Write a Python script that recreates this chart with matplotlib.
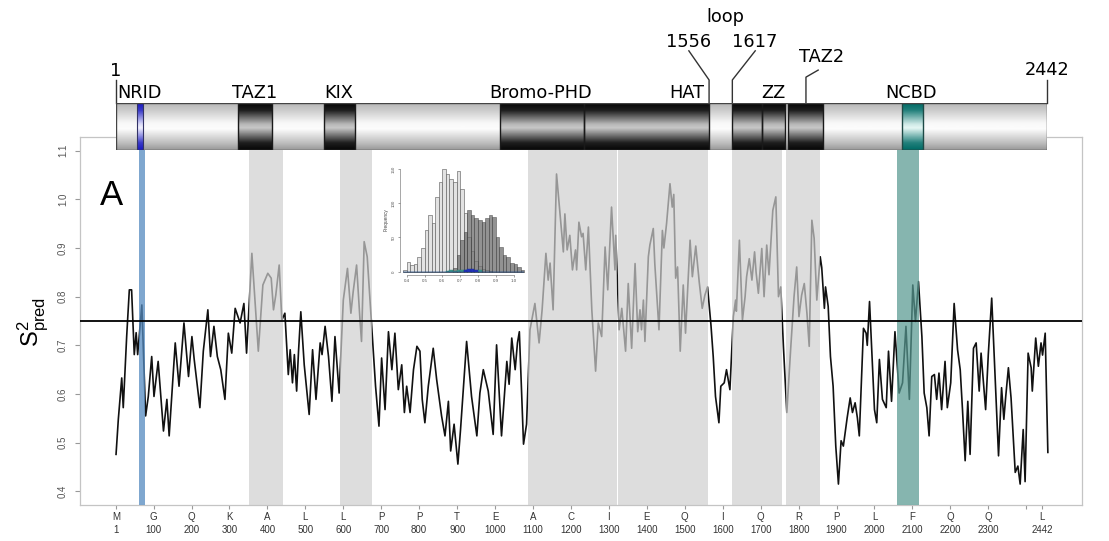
import numpy as np
import matplotlib
matplotlib.use('Agg')
import matplotlib.pyplot as plt
from matplotlib.patches import Rectangle

plt.rcParams['font.family'] = ['Liberation Sans', 'DejaVu Sans']
plt.rcParams['mathtext.fontset'] = 'custom'
plt.rcParams['mathtext.rm'] = 'Liberation Sans'

# predicted order parameter along the sequence
residue = [1, 7, 16, 20, 29, 36, 42, 49, 54, 58, 69, 79, 86, 95, 101, 112, 126, 135, 141, 157,
           167, 180, 192, 201, 207, 222, 231, 243, 250, 259, 268, 277, 288, 297, 306, 315, 328,
           338, 345, 359, 376, 388, 401, 410, 416, 422, 431, 438, 446, 455, 460, 466, 471, 477,
           482, 488, 497, 510, 519, 528, 539, 544, 552, 561, 570, 578, 589, 600, 611, 620, 626,
           635, 644, 648, 655, 663, 675, 685, 694, 701, 710, 719, 728, 736, 745, 754, 761, 767,
           776, 785, 794, 802, 808, 815, 824, 833, 837, 846, 859, 868, 877, 883, 892, 902, 909,
           925, 938, 952, 960, 969, 982, 995, 1004, 1017, 1031, 1037, 1044, 1053, 1059, 1064,
           1075, 1083, 1092, 1105, 1116, 1124, 1134, 1140, 1145, 1153, 1162, 1173, 1180, 1184,
           1190, 1197, 1204, 1212, 1215, 1221, 1228, 1232, 1239, 1246, 1255, 1265, 1272, 1281,
           1290, 1297, 1307, 1316, 1318, 1327, 1334, 1344, 1351, 1360, 1369, 1376, 1382, 1386,
           1391, 1395, 1404, 1408, 1417, 1421, 1432, 1441, 1445, 1452, 1461, 1467, 1471, 1476,
           1481, 1488, 1496, 1502, 1514, 1520, 1529, 1538, 1546, 1553, 1560, 1569, 1575, 1581,
           1590, 1595, 1604, 1610, 1619, 1628, 1634, 1636, 1644, 1652, 1659, 1663, 1670, 1677,
           1684, 1688, 1694, 1703, 1709, 1716, 1722, 1732, 1740, 1747, 1753, 1760, 1769, 1779,
           1788, 1795, 1801, 1808, 1815, 1822, 1828, 1835, 1841, 1848, 1857, 1861, 1868, 1871,
           1878, 1884, 1891, 1898, 1905, 1912, 1918, 1928, 1936, 1942, 1949, 1955, 1960, 1971,
           1978, 1981, 1987, 1993, 2000, 2006, 2013, 2021, 2031, 2037, 2045, 2054, 2065, 2074,
           2083, 2092, 2101, 2108, 2116, 2125, 2131, 2138, 2144, 2151, 2158, 2164, 2170, 2177,
           2186, 2192, 2201, 2210, 2219, 2226, 2232, 2239, 2246, 2252, 2261, 2268, 2276, 2281,
           2293, 2300, 2309, 2318, 2327, 2335, 2341, 2346, 2353, 2360, 2371, 2378, 2384, 2392,
           2397, 2405, 2413, 2416, 2425, 2432, 2439, 2443, 2450, 2457]
s2 = [0.476, 0.548, 0.633, 0.572, 0.718, 0.814, 0.814, 0.681, 0.726, 0.681, 0.783, 0.555, 0.595,
      0.677, 0.595, 0.667, 0.524, 0.589, 0.514, 0.705, 0.616, 0.746, 0.636, 0.718, 0.671, 0.572,
      0.688, 0.773, 0.677, 0.739, 0.677, 0.650, 0.589, 0.725, 0.684, 0.776, 0.746, 0.786, 0.684,
      0.889, 0.688, 0.824, 0.848, 0.838, 0.773, 0.803, 0.865, 0.752, 0.766, 0.640, 0.691, 0.623,
      0.681, 0.606, 0.688, 0.769, 0.660, 0.558, 0.691, 0.589, 0.705, 0.681, 0.739, 0.677, 0.585,
      0.718, 0.602, 0.793, 0.858, 0.766, 0.810, 0.865, 0.752, 0.708, 0.913, 0.882, 0.735, 0.616,
      0.534, 0.674, 0.568, 0.728, 0.650, 0.725, 0.609, 0.660, 0.562, 0.616, 0.562, 0.650, 0.698,
      0.688, 0.589, 0.541, 0.616, 0.671, 0.694, 0.630, 0.555, 0.514, 0.585, 0.483, 0.538, 0.456,
      0.527, 0.708, 0.595, 0.514, 0.602, 0.650, 0.606, 0.517, 0.701, 0.514, 0.667, 0.620, 0.715,
      0.650, 0.705, 0.728, 0.497, 0.538, 0.732, 0.786, 0.705, 0.773, 0.889, 0.834, 0.869, 0.773,
      1.052, 0.953, 0.892, 0.970, 0.896, 0.926, 0.855, 0.896, 0.855, 0.953, 0.923, 0.930, 0.855,
      0.943, 0.773, 0.647, 0.746, 0.718, 0.902, 0.814, 0.984, 0.855, 0.926, 0.732, 0.776, 0.688,
      0.827, 0.694, 0.868, 0.728, 0.773, 0.732, 0.793, 0.708, 0.882, 0.906, 0.940, 0.868, 0.732,
      0.936, 0.900, 0.950, 1.032, 0.984, 1.010, 0.838, 0.861, 0.688, 0.824, 0.725, 0.916, 0.841,
      0.904, 0.831, 0.776, 0.803, 0.820, 0.742, 0.677, 0.595, 0.541, 0.616, 0.623, 0.650, 0.609,
      0.759, 0.793, 0.770, 0.916, 0.752, 0.800, 0.841, 0.878, 0.834, 0.892, 0.850, 0.807, 0.899,
      0.800, 0.906, 0.845, 0.977, 1.005, 0.800, 0.820, 0.698, 0.562, 0.691, 0.800, 0.861, 0.759,
      0.803, 0.827, 0.766, 0.698, 0.957, 0.920, 0.793, 0.882, 0.860, 0.776, 0.820, 0.780, 0.677,
      0.616, 0.493, 0.415, 0.504, 0.493, 0.551, 0.592, 0.562, 0.582, 0.551, 0.514, 0.735, 0.725,
      0.700, 0.790, 0.688, 0.568, 0.541, 0.671, 0.589, 0.572, 0.688, 0.585, 0.728, 0.602, 0.623,
      0.739, 0.589, 0.824, 0.749, 0.831, 0.718, 0.602, 0.572, 0.514, 0.636, 0.640, 0.589, 0.643,
      0.568, 0.667, 0.572, 0.623, 0.786, 0.691, 0.650, 0.568, 0.463, 0.585, 0.476, 0.694, 0.705,
      0.606, 0.684, 0.568, 0.681, 0.797, 0.636, 0.473, 0.613, 0.548, 0.595, 0.654, 0.592, 0.439,
      0.452, 0.415, 0.527, 0.420, 0.684, 0.654, 0.606, 0.715, 0.657, 0.705, 0.680, 0.725, 0.480]

threshold = 0.75

xtick_pos = [1, 100, 200, 300, 400, 500, 600, 700, 800, 900, 1000, 1100, 1200, 1300, 1400,
             1500, 1600, 1700, 1800, 1900, 2000, 2100, 2200, 2300, 2400, 2442]
xtick_aa = ['M', 'G', 'Q', 'K', 'A', 'L', 'L', 'P', 'P', 'T', 'E', 'A', 'C', 'I', 'E',
            'Q', 'I', 'Q', 'R', 'P', 'L', 'F', 'Q', 'Q', '', 'L']
ytick_pos = [0.4, 0.5, 0.6, 0.7, 0.8, 0.9, 1.0, 1.1]

# shaded domain regions in the profile
shade_regions = [(352, 441), (591, 676), (1087, 1322), (1323, 1561), (1625, 1756), (1767, 1857)]
nrid_band = (62, 77)
ncbd_band = (2060, 2118)

# domain map on top
bar_dark = [(321, 410), (546, 628), (1008, 1228), (1228, 1556), (1617, 1695), (1695, 1755),
            (1763, 1855)]
bar_nrid = (56, 72)
bar_ncbd = (2062, 2117)
bar_labels = [('NRID', 4, 'left'), ('TAZ1', 365, 'center'), ('KIX', 586, 'center'),
              ('Bromo-PHD', 1115, 'center'), ('HAT', 1498, 'center'), ('ZZ', 1724, 'center'),
              ('NCBD', 2085, 'center')]

# inset histogram
hist_edges = np.arange(0.38, 1.0601, 0.02)
hist_light = [2, 14, 10, 11, 22, 34, 61, 83, 71, 109, 131, 150, 143, 136, 131, 147, 121, 86,
              50, 30, 15, 8, 4, 2, 1, 0, 0, 0, 0, 0, 0, 0, 0, 0]
hist_dark = [0, 0, 0, 0, 0, 0, 0, 0, 0, 0, 0, 0, 0, 0, 5, 25, 46, 58, 90, 83, 78, 75, 73, 78,
             83, 80, 51, 36, 24, 22, 12, 11, 7, 3]
hist_teal = [0, 0, 0, 0, 0, 0, 0, 0, 0, 0, 0, 0, 1, 2, 1, 2, 3, 2, 3, 2, 1, 2, 0, 0,
             0, 0, 0, 0, 0, 0, 0, 0, 0, 0]
hist_blue = [0, 0, 0, 0, 0, 0, 0, 0, 0, 0, 0, 0, 0, 0, 0, 0, 0, 3, 4, 4, 3, 0, 0, 0,
             0, 0, 0, 0, 0, 0, 0, 0, 0, 0]

W, H = 1109, 541


def px_axes(x0, y0, x1, y1, **kw):
    return fig.add_axes([x0 / W, 1 - y1 / H, (x1 - x0) / W, (y1 - y0) / H], **kw)


fig = plt.figure(figsize=(W / 100, H / 100), dpi=100)

# ---- main profile
ax = px_axes(80, 137, 1082, 505)
ax.plot(residue, s2, color='#111111', lw=1.2, zorder=2)
for a, b in shade_regions:
    ax.axvspan(a, b, color=(0.81, 0.81, 0.81), alpha=0.7, lw=0, zorder=3)
ax.axvspan(*nrid_band, color=(0.33, 0.54, 0.75), alpha=0.75, lw=0, zorder=3)
ax.axvspan(*ncbd_band, color=(0.34, 0.60, 0.57), alpha=0.72, lw=0, zorder=3)
ax.axhline(threshold, color='black', lw=1.3, zorder=4)
ax.set_xlim(-94, 2547)
ax.set_ylim(0.372, 1.128)
ax.set_xticks(xtick_pos)
ax.set_xticklabels([f'{a}\n{p}' if a else '' for a, p in zip(xtick_aa, xtick_pos)])
ax.set_yticks(ytick_pos)
ax.set_yticklabels([f'{v:.1f}' for v in ytick_pos], rotation=90, va='center')
ax.tick_params(axis='x', length=2.9, color='#999999', labelsize=7, labelcolor='#333333', pad=2)
ax.tick_params(axis='y', length=3.6, color='#999999', labelsize=7, labelcolor='#555555', pad=5)
for lab in ax.get_xticklabels():
    lab.set_linespacing(1.45)
for sp in ax.spines.values():
    sp.set_color('#c4c4c4')
    sp.set_linewidth(0.9)

fig.text(112 / W, 1 - 196 / H, 'A', fontsize=25, ha='center', va='center')
fig.text(33 / W, 1 - 322 / H, r'$\mathrm{S}^2_{\mathrm{pred}}$', rotation=90, fontsize=17,
         ha='center', va='center')

# ---- inset histogram
bg = px_axes(373, 153, 528, 292)
bg.set_facecolor('white')
bg.set_xticks([])
bg.set_yticks([])
for sp in bg.spines.values():
    sp.set_visible(False)

hx = px_axes(400, 165, 526, 275)
hx.patch.set_alpha(0)
left = hist_edges[:-1]
hx.bar(left, hist_light, width=0.02, align='edge', color='#e2e2e2', edgecolor='#555555', lw=0.4)
hx.bar(left, hist_dark, width=0.02, align='edge', color='#6e6e6e', alpha=0.75,
       edgecolor='#333333', lw=0.4)
hx.bar(left, hist_teal, width=0.02, align='edge', color='#3f9a8e', edgecolor='#2f7a70', lw=0.3)
hx.bar(left, hist_blue, width=0.02, align='edge', color='#2233bb', edgecolor='#1a2a99', lw=0.3)
hx.set_xlim(0.362, 1.070)
hx.set_ylim(-4.8, 155.8)
hx.set_xticks([0.4, 0.5, 0.6, 0.7, 0.8, 0.9, 1.0])
hx.set_xticklabels(['0.4', '0.5', '0.6', '0.7', '0.8', '0.9', '1.0'])
hx.set_yticks([0, 50, 100, 150])
hx.set_yticklabels(['0', '50', '100', '150'], rotation=90, va='center')
hx.tick_params(labelsize=3.2, length=1.5, width=0.4, pad=1.5, colors='#555555')
hx.set_ylabel('Frequency', fontsize=3.4, labelpad=2, color='#444444')
hx.spines['top'].set_visible(False)
hx.spines['right'].set_visible(False)
hx.spines['left'].set_bounds(0, 150)
hx.spines['bottom'].set_bounds(0.4, 1.0)
for s in ('left', 'bottom'):
    hx.spines[s].set_linewidth(0.4)
    hx.spines[s].set_color('#666666')

# ---- domain bar
bx = px_axes(116, 103, 1047, 150)
bx.set_xlim(1, 2442)
bx.set_ylim(0, 1)
bx.axis('off')

yy = np.linspace(0, 1, 64)
light_prof = np.interp(yy, [0, 0.12, 0.45, 0.58, 0.85, 1], [0.60, 0.72, 0.99, 0.97, 0.80, 0.72])
dark_prof = np.interp(yy, [0, 0.15, 0.47, 0.55, 0.85, 1], [0.03, 0.12, 0.78, 0.72, 0.12, 0.03])


def colour_prof(rgb_dark, rgb_light):
    t = np.interp(yy, [0, 0.15, 0.47, 0.55, 0.85, 1], [0, 0.15, 1, 0.9, 0.15, 0])
    d = np.array(rgb_dark)
    lt = np.array(rgb_light)
    return (d[None, :] + (lt - d)[None, :] * t[:, None])[:, None, :]


bx.imshow(light_prof[:, None], cmap='gray', vmin=0, vmax=1, aspect='auto', origin='lower',
          extent=(1, 2442, 0, 1), zorder=1)
for a, b in bar_dark:
    bx.imshow(dark_prof[:, None], cmap='gray', vmin=0, vmax=1, aspect='auto', origin='lower',
              extent=(a, b, 0, 1), zorder=2)
    bx.add_patch(Rectangle((a, 0), b - a, 1, fill=False, ec='#1a1a1a', lw=1.0, zorder=3))
bx.imshow(colour_prof((0.1, 0.1, 0.75), (0.95, 0.95, 1.0)), aspect='auto', origin='lower',
          extent=(bar_nrid[0], bar_nrid[1], 0, 1), zorder=2)
bx.add_patch(Rectangle((bar_nrid[0], 0), bar_nrid[1] - bar_nrid[0], 1, fill=False, ec='#333366',
                       lw=0.8, zorder=3))
bx.imshow(colour_prof((0.0, 0.42, 0.40), (0.90, 0.97, 0.96)), aspect='auto', origin='lower',
          extent=(bar_ncbd[0], bar_ncbd[1], 0, 1), zorder=2)
bx.add_patch(Rectangle((bar_ncbd[0], 0), bar_ncbd[1] - bar_ncbd[0], 1, fill=False, ec='#1e4a46',
                       lw=1.0, zorder=3))
bx.add_patch(Rectangle((1, 0), 2441, 1, fill=False, ec='#444444', lw=1.0, zorder=4))

lab_kw = dict(fontsize=12.8, family='DejaVu Sans', color='black', va='center', clip_on=False)
for name, x, ha in bar_labels:
    bx.text(x, 1.22, name, ha=ha, **lab_kw)
bx.text(1, 1.68, '1', ha='center', **lab_kw)
bx.text(2442, 1.70, '2442', ha='center', **lab_kw)
bx.text(1852, 1.98, 'TAZ2', ha='center', **lab_kw)
bx.text(1503, 2.30, '1556', ha='center', **lab_kw)
bx.text(1676, 2.30, '1617', ha='center', **lab_kw)
bx.text(1598, 2.83, 'loop', ha='center', **lab_kw)

line_kw = dict(color='#333333', lw=1.0, clip_on=False)
bx.plot([1, 1], [1, 1.49], **line_kw)
bx.plot([2442, 2442], [1, 1.49], **line_kw)
bx.plot([1503, 1556, 1556], [2.11, 1.49, 1], **line_kw)
bx.plot([1677, 1617, 1617], [2.11, 1.49, 1], **line_kw)
bx.plot([1842, 1810, 1810], [1.70, 1.55, 1], **line_kw)

fig.savefig('out.png', dpi=100)
